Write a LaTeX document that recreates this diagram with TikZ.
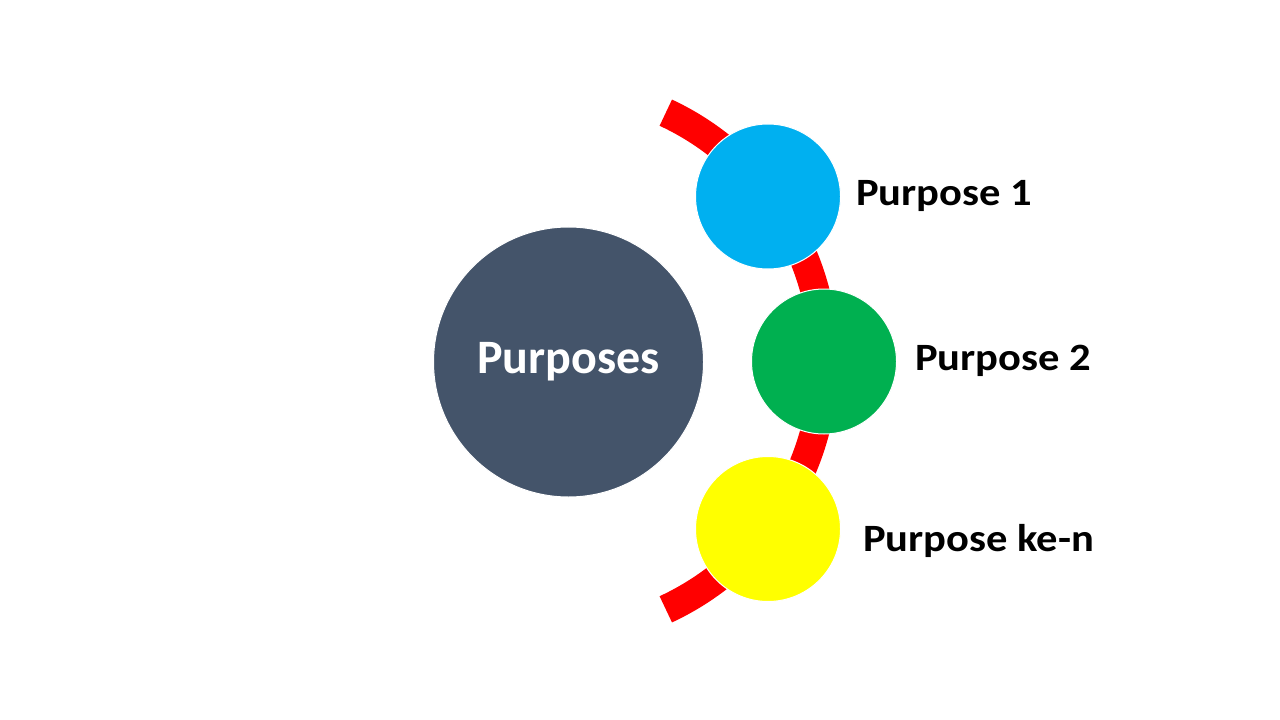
\documentclass[tikz,border=0pt]{standalone}
\usepackage{fontspec}
\setmainfont{Carlito}
\newfontfamily\labelfont[FakeStretch=1.1]{Carlito}
\definecolor{slate}{HTML}{44546A}
\definecolor{pblue}{HTML}{00B0F0}
\definecolor{pgreen}{HTML}{00B050}
\definecolor{pyellow}{HTML}{FFFF00}
\definecolor{pred}{HTML}{FF0000}
\begin{document}
\begin{tikzpicture}[x=0.75pt,y=-0.75pt,
  bubble/.style={circle,draw=white,line width=0.75pt,inner sep=0pt,minimum size=145*0.75pt},
  lbl/.style={anchor=base west,inner sep=0pt,font=\labelfont\fontsize{29}{34}\selectfont\bfseries,text=black}]
\useasboundingbox[fill=white] (0,0) rectangle (1280,720);
% red arc
\draw[pred,line width=29*0.75pt,line cap=butt] (550,361) ++(65:274) arc[start angle=65,end angle=-65,radius=274];
\node[circle,fill=slate,draw=white,line width=0.75pt,inner sep=0pt,minimum size=270*0.75pt,
  font=\fontsize{36}{42}\selectfont\bfseries,text=white] (main) at (568.5,362) {Purposes};
\node[bubble,fill=pblue] (p1) at (768,196.5) {};
\node[bubble,fill=pgreen] (p2) at (824,361.5) {};
\node[bubble,fill=pyellow] (p3) at (768,529) {};
\node[lbl] (l1) at (856,206) {Purpose 1};
\node[lbl] (l2) at (915,370.5) {Purpose 2};
\node[lbl] (l3) at (863,551.5) {Purpose ke-n};
\end{tikzpicture}
\end{document}
